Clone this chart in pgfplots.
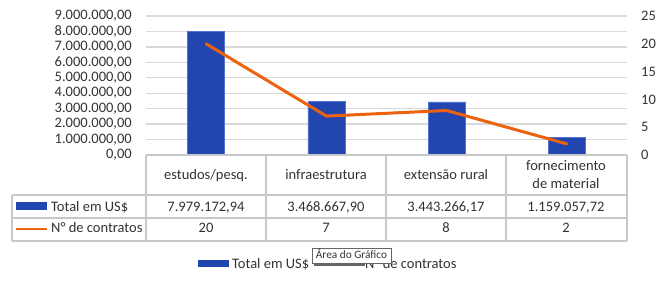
\documentclass[border=0pt]{standalone}
\usepackage{fontspec}
\setmainfont{Carlito}
\usepackage{pgfplots}
\pgfplotsset{compat=1.18}
\definecolor{barblue}{RGB}{35,69,175}
\definecolor{baredge}{RGB}{80,115,210}
\definecolor{lineorange}{RGB}{236,98,14}
\definecolor{gridgray}{RGB}{217,217,217}
\definecolor{tablegray}{RGB}{200,200,200}
\definecolor{txt}{RGB}{50,50,50}
\newcommand{\fs}{\fontsize{14.5}{17}\selectfont}
\begin{document}
\begin{tikzpicture}[font=\fs, text=txt]
\path[use as bounding box] (0pt,0pt) rectangle (670pt,281pt);
\begin{axis}[
  at={(146pt,126pt)}, anchor=south west, scale only axis,
  width=481pt, height=139pt,
  xmin=-0.5, xmax=3.5, ymin=0, ymax=9000000,
  xtick=\empty,
  ytick={0,1000000,2000000,3000000,4000000,5000000,6000000,7000000,8000000,9000000},
  yticklabels={{0,00},{1.000.000,00},{2.000.000,00},{3.000.000,00},{4.000.000,00},{5.000.000,00},{6.000.000,00},{7.000.000,00},{8.000.000,00},{9.000.000,00}},
  scaled y ticks=false,
  ymajorgrids, grid style={draw=gridgray, line width=1.4pt},
  axis line style={draw=none}, major tick length=0pt,
  yticklabel style={anchor=east, inner sep=0pt, xshift=-14pt, font=\fs, text=txt},
]
\addplot[ybar, bar width=37pt, fill=barblue, draw=baredge, line width=0.6pt]
  coordinates {(0,7979172.94) (1,3468667.90) (2,3443266.17) (3,1159057.72)};
\end{axis}
\begin{axis}[
  at={(146pt,126pt)}, anchor=south west, scale only axis,
  width=481pt, height=139pt,
  xmin=-0.5, xmax=3.5, ymin=0, ymax=25,
  xtick=\empty, ytick={0,5,10,15,20,25},
  yticklabel pos=right,
  axis line style={draw=none}, major tick length=0pt,
  /pgf/number format/assume math mode=true,
  yticklabel style={anchor=west, inner sep=0pt, xshift=14pt, font=\fs, text=txt},
]
\addplot[lineorange, line width=3pt, line join=round, line cap=round]
  coordinates {(0,20) (1,7) (2,8) (3,2)};
\end{axis}
% data table
\begin{scope}[tablegray, line width=1.3pt]
\draw (146pt,126pt) -- (627pt,126pt);
\draw (12pt,86pt) -- (627pt,86pt);
\draw (12pt,63pt) -- (627pt,63pt);
\draw (12pt,40pt) -- (627pt,40pt);
\draw (12pt,40pt) -- (12pt,86pt);
\foreach \x in {146,266,386,506,627} \draw (\x pt,40pt) -- (\x pt,126pt);
\end{scope}
\begin{scope}[every node/.style={anchor=base, inner sep=0pt, text=txt}]
\node at (206pt,101pt) {estudos/pesq.};
\node at (326pt,101pt) {infraestrutura};
\node at (446pt,101pt) {extensão rural};
\node at (566pt,110.3pt) {fornecimento};
\node at (566pt,92pt) {de material};
\node at (206pt,69.3pt) {7.979.172,94};
\node at (326pt,69.3pt) {3.468.667,90};
\node at (446pt,69.3pt) {3.443.266,17};
\node at (566pt,69.3pt) {1.159.057,72};
\node at (206pt,48pt) {20};
\node at (326pt,48pt) {7};
\node at (446pt,48pt) {8};
\node at (566pt,48pt) {2};
\node[anchor=base west] at (51pt,69.3pt) {Total em US\$};
\node[anchor=base west] at (51pt,48pt) {N° de contratos};
\node[anchor=base west] at (232pt,12.5pt) {Total em US\$};
\node[anchor=base west] at (365pt,12.5pt) {N° de contratos};
\end{scope}
\fill[barblue] (16pt,71pt) rectangle (47pt,79pt);
\draw[lineorange, line width=2.6pt] (16pt,52pt) -- (47pt,52pt);
\fill[barblue] (198pt,14pt) rectangle (229pt,21pt);
% tooltip
\fill[black!60] (314pt,15pt) rectangle (365pt,18pt);
\filldraw[fill=white, draw=black!60, line width=0.8pt] (312pt,18pt) rectangle (391pt,33pt);
\node[anchor=base, inner sep=0pt, font=\fontsize{11.3}{12}\selectfont, text=black!80] at (351.5pt,22pt) {Área do Gráfico};
\end{tikzpicture}
\end{document}
